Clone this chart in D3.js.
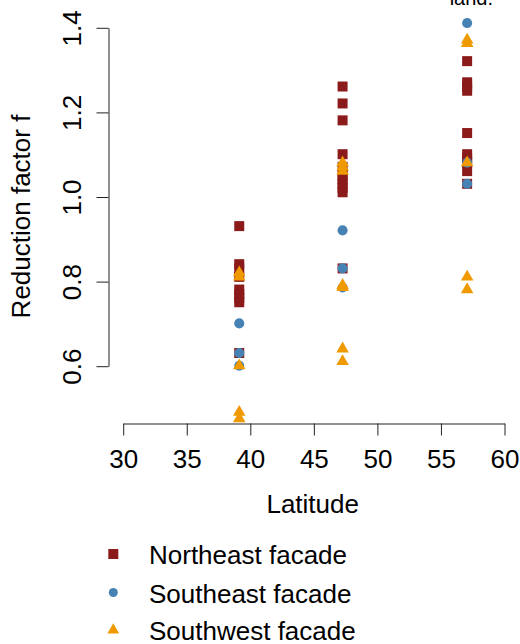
<!DOCTYPE html>
<html>
<head>
<meta charset="utf-8">
<script src="https://cdn.jsdelivr.net/npm/d3@7"></script>
<style>
  html, body { margin: 0; padding: 0; background: #fff; }
  svg { display: block; }
  text { font-family: "Liberation Sans", Arial, Helvetica, sans-serif; fill: #000; }
</style>
</head>
<body>
<svg id="chart" width="520" height="644"></svg>
<script>
// ---- data ----
const latitudes = [39.17, 47.3, 57.1];
const northeastValues = [
  [0.93, 0.84, 0.83, 0.81, 0.78, 0.77, 0.76, 0.75, 0.63],
  [1.26, 1.22, 1.18, 1.10, 1.07, 1.05, 1.04, 1.03, 1.02, 1.01, 0.83],
  [1.32, 1.27, 1.26, 1.25, 1.15, 1.10, 1.09, 1.08, 1.06, 1.03]
];
const southeastValues = [
  [0.70, 0.63, 0.60],
  [0.92, 0.83, 0.785],
  [1.41, 1.08, 1.03]
];
const southwestValues = [
  [0.82, 0.81, 0.60, 0.49, 0.475],
  [1.08, 1.07, 1.06, 0.79, 0.785, 0.64, 0.61],
  [1.37, 1.362, 1.08, 0.81, 0.78]
];
const seriesNames = ["Northeast facade", "Southeast facade", "Southwest facade"];
const xTicks = [30, 35, 40, 45, 50, 55, 60];
const yTicks = [0.6, 0.8, 1.0, 1.2, 1.4];
const xTitle = "Latitude";
const yTitle = "Reduction factor f";
const topText = "land.";

// ---- styles ----
const colors = ["#8B1A1A", "#4682B4", "#EE9A00"];
const symbols = [d3.symbolSquare, d3.symbolCircle, d3.symbolTriangle];
const symSizes = [100, 80, 68];

const svg = d3.select("#chart");
const x = d3.scaleLinear().domain([30, 60]).range([122.7, 504]);
const y = d3.scaleLinear().domain([0.6, 1.4]).range([365.7, 27.3]);

// x axis
const xAxis = svg.append("g")
  .attr("transform", "translate(0.5,423.5)")
  .call(d3.axisBottom(x).tickValues(xTicks).tickFormat(d3.format("d")).tickSize(12).tickSizeOuter(0));
xAxis.selectAll("path, line").attr("stroke", "#222");
xAxis.selectAll("text").attr("y", 44).attr("dy", null)
  .style("font-size", "26px").attr("fill", "#000");

// y axis
const yAxis = svg.append("g")
  .attr("transform", "translate(108.5,0.5)")
  .call(d3.axisLeft(y).tickValues(yTicks).tickFormat(d3.format(".1f")).tickSize(12).tickSizeOuter(0));
yAxis.selectAll("path, line").attr("stroke", "#222");
yAxis.selectAll("text").attr("x", null).attr("dy", null)
  .attr("transform", "translate(-28,0) rotate(-90)")
  .attr("text-anchor", "middle")
  .style("font-size", "26px").attr("fill", "#000");
svg.selectAll(".domain").attr("stroke", "#222");

// titles
svg.append("text").attr("x", 312.7).attr("y", 513).attr("text-anchor", "middle")
  .style("font-size", "26px").text(xTitle);
svg.append("text").attr("transform", "translate(30,216.5) rotate(-90)").attr("text-anchor", "middle")
  .style("font-size", "26px").text(yTitle);
svg.append("text").attr("x", 493).attr("y", 5).attr("text-anchor", "end")
  .style("font-size", "20px").attr("fill", "#222").text(topText);

// points
const allSeries = [northeastValues, southeastValues, southwestValues];
allSeries.forEach((vals, si) => {
  const pts = [];
  vals.forEach((col, li) => col.forEach(v => pts.push({lat: latitudes[li], v})));
  svg.append("g").selectAll("path").data(pts).join("path")
    .attr("d", d3.symbol(symbols[si], symSizes[si]))
    .attr("transform", d => `translate(${x(d.lat)},${y(d.v)})`)
    .attr("fill", colors[si]);
});

// legend
const legendY = [554, 592.5, 630];
const leg = svg.append("g");
seriesNames.forEach((name, i) => {
  leg.append("path")
    .attr("d", d3.symbol(symbols[i], i === 1 ? 64 : (i === 2 ? 60 : 100)))
    .attr("transform", `translate(113.3,${legendY[i]})`)
    .attr("fill", colors[i]);
  leg.append("text").attr("x", 149).attr("y", legendY[i] + 10)
    .style("font-size", "26px").text(name);
});
</script>
</body>
</html>
